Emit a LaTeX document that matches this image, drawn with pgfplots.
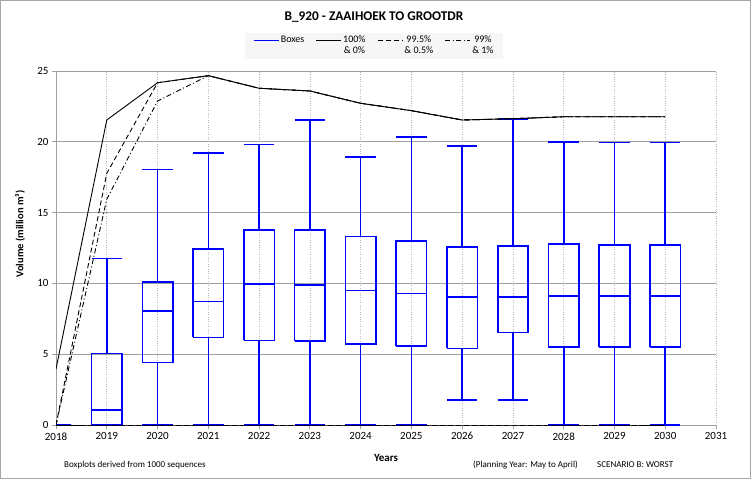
\documentclass[border=0pt]{standalone}
\usepackage{fontspec}
\setmainfont{Carlito}
\usepackage{pgfplots}
\pgfplotsset{compat=1.18}
\definecolor{boxblue}{RGB}{0,0,255}
\definecolor{gridgray}{RGB}{160,160,160}
\definecolor{vgrid}{RGB}{185,185,185}
\definecolor{legfill}{RGB}{246,246,246}
% box: position, lower whisker, Q1, median, Q3, upper whisker
\newcommand{\bx}[6]{%
  \pgfmathsetmacro\xl{#1-0.3}\pgfmathsetmacro\xr{#1+0.3}%
  \edef\doplot{\noexpand\addplot[boxblue, line width=1.6pt, forget plot, unbounded coords=jump]
    coordinates {(\xl,#3) (\xr,#3) (\xr,#5) (\xl,#5) (\xl,#3) (#1,nan)
      (\xl,#4) (\xr,#4) (#1,nan) (#1,#5) (#1,#6) (#1,nan) (\xl,#6) (\xr,#6) (#1,nan)
      (#1,#2) (#1,#3) (#1,nan) (\xl,#2) (\xr,#2)};}%
  \doplot}
\begin{document}
\begin{tikzpicture}
\fill[white] (0pt,0pt) rectangle (751pt,479pt);
\useasboundingbox (0pt,0pt) rectangle (751pt,479pt);
\draw[gray!70, line width=0.8pt] (0.5pt,0.5pt) rectangle (750.5pt,478.5pt);
\node[font=\fontsize{13.3}{15}\selectfont\bfseries] at (374pt,462pt) {B\_920 - ZAAIHOEK TO GROOTDR};
\node[font=\fontsize{11}{13}\selectfont\bfseries] at (386pt,21pt) {Years};
\node[font=\fontsize{10.5}{13}\selectfont\bfseries, rotate=90] at (20pt,245pt) {Volume (million m³)};
\node[font=\fontsize{9}{11}\selectfont, anchor=west, inner sep=0pt] at (64pt,14pt) {Boxplots derived from 1000 sequences};
\node[font=\fontsize{9}{11}\selectfont, anchor=west, inner sep=0pt] at (473pt,14pt) {(Planning Year: May to April)};
\node[font=\fontsize{9}{11}\selectfont, anchor=west, inner sep=0pt] at (597pt,14pt) {SCENARIO B: WORST};
\begin{axis}[
  at={(56pt,54pt)}, anchor=south west,
  scale only axis, width=660pt, height=354pt,
  xmin=0, xmax=13, ymin=0, ymax=25,
  xtick={0,1,...,13},
  xticklabels={2018,2019,2020,2021,2022,2023,2024,2025,2026,2027,2028,2029,2030,2031},
  ytick={0,5,10,15,20,25},
  /pgf/number format/assume math mode=true,
  tick label style={font=\fontsize{11}{13}\selectfont},
  axis x line*=bottom, axis y line*=left,
  axis line style={gridgray, line width=0.8pt, -},
  tick pos=left, tick align=outside, major tick length=4pt,
  tick style={gridgray, line width=0.8pt},
  ymajorgrids, xmajorgrids,
  y grid style={gridgray, line width=0.8pt},
  x grid style={vgrid, dotted, line width=0.6pt},
  legend columns=4,
  legend style={at={(0.482,1.0715)}, anchor=center, fill=legfill, draw=none,
    inner xsep=8pt, inner ysep=2pt,
    font=\fontsize{10}{11}\selectfont, nodes={align=center, inner sep=1.5pt},
    /tikz/every even column/.append style={column sep=10pt}},
  legend image code/.code={\draw[#1] (0pt,5.5pt) -- (25pt,5.5pt);},
]
\bx{0}{0}{0}{0}{0}{0}
\bx{1}{0}{0}{1.08}{5.06}{11.77}
\bx{2}{0}{4.40}{8.05}{10.12}{18.05}
\bx{3}{0}{6.19}{8.71}{12.43}{19.19}
\bx{4}{0}{5.98}{9.96}{13.77}{19.80}
\bx{5}{0}{5.93}{9.87}{13.77}{21.56}
\bx{6}{0}{5.72}{9.51}{13.30}{18.93}
\bx{7}{0}{5.58}{9.30}{13.00}{20.32}
\bx{8}{1.77}{5.41}{9.02}{12.59}{19.70}
\bx{9}{1.77}{6.52}{9.04}{12.66}{21.60}
\bx{10}{0}{5.49}{9.09}{12.80}{19.98}
\bx{11}{0}{5.49}{9.09}{12.73}{19.94}
\bx{12}{0}{5.49}{9.09}{12.73}{19.94}
\addlegendimage{boxblue, line width=1.2pt}
\addlegendentry[yshift=5.5pt]{Boxes}
\addplot[black, line width=0.9pt] table {
x y
0 3.95
1 21.54
2 24.17
3 24.67
4 23.78
5 23.59
6 22.72
7 22.20
8 21.54
9 21.63
10 21.77
11 21.77
12 21.77
};
\addlegendentry{100\%\\\& 0\%}
\addplot[black, line width=0.9pt, dash pattern=on 5pt off 3pt] table {
x y
0 0
1 17.77
2 24.17
3 24.67
4 23.78
5 23.59
6 22.72
7 22.20
8 21.54
9 21.63
10 21.77
11 21.77
12 21.77
};
\addlegendentry{99.5\%\\\& 0.5\%}
\addplot[black, line width=0.9pt, dash pattern=on 5pt off 2.5pt on 1pt off 2.5pt] table {
x y
0 0
1 15.94
2 22.88
3 24.67
4 23.78
5 23.59
6 22.72
7 22.20
8 21.54
9 21.63
10 21.77
11 21.77
12 21.77
};
\addlegendentry{99\%\\\& 1\%}
% lower envelope lines (0%, 0.5%, 1%)
\addplot[black, line width=0.9pt, forget plot] table {
x y
0 0
1 0
2 0
3 0
4 0
5 0
6 0
7 0
8 0
9 0
10 0
11 0
12 0
};
\addplot[black, line width=0.9pt, dash pattern=on 5pt off 3pt, forget plot] table {
x y
0 0
1 0
2 0
3 0
4 0
5 0
6 0
7 0
8 0
9 0
10 0
11 0
12 0
};
\end{axis}
\end{tikzpicture}
\end{document}
